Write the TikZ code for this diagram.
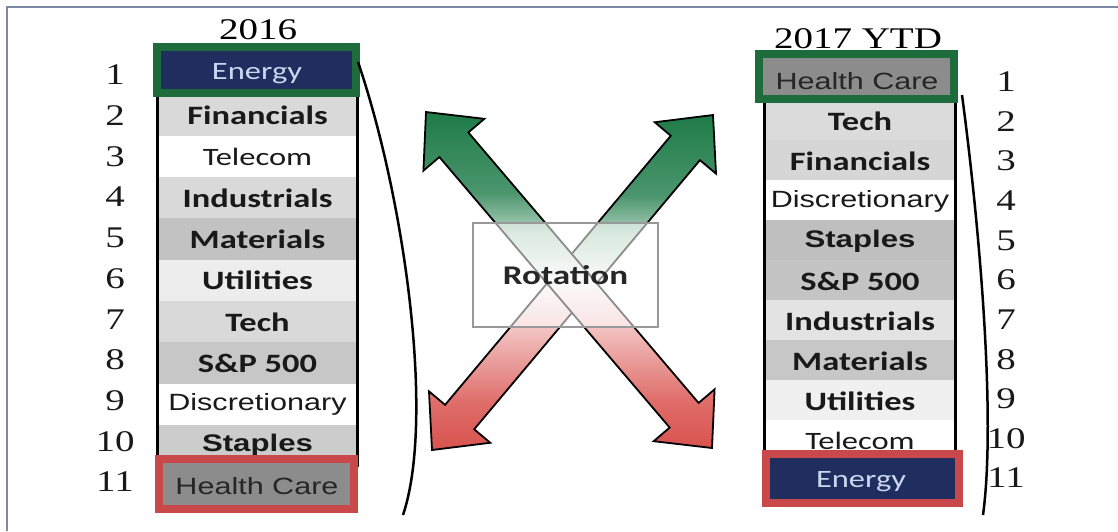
\documentclass[tikz,border=0pt]{standalone}
\usepackage{fontspec}
\usepackage{graphicx}
\usetikzlibrary{calc}
\setmainfont{Liberation Serif}
\newfontfamily\calfont{Carlito}
\newfontfamily\arialfont{Liberation Sans}
% labels are set wide, as in the original chart
\newcommand{\wide}[1]{\scalebox{1.3}[1]{#1}}
\newcommand{\fbold}{\calfont\bfseries\fontsize{26.5}{28}\selectfont}
\newcommand{\freg}{\calfont\fontsize{25}{27}\selectfont}
\newcommand{\farial}{\arialfont\fontsize{23.5}{26}\selectfont}
\newcommand{\farialb}{\arialfont\bfseries\fontsize{24}{26}\selectfont}
\newcommand{\fnum}{\fontsize{30}{32}\selectfont}
\definecolor{navy}{HTML}{1F2D5F}
\definecolor{boxgreen}{HTML}{1E6B3C}
\definecolor{boxred}{HTML}{C9494B}
\definecolor{arrgreen}{HTML}{1E7B48}
\definecolor{arrred}{HTML}{D9534F}
\definecolor{hcgrey}{HTML}{8C8C8C}
\definecolor{energytxt}{HTML}{C9D6F0}
\definecolor{frameblue}{HTML}{8088A8}
% verlauf der pfeile: unten rot, mitte hell, oben gruen
\pgfdeclareverticalshading{arrshade}{100bp}{color(0bp)=(arrred); color(25bp)=(arrred); color(32bp)=(arrred!85!white);
	color(43bp)=(arrred!35!white); color(50bp)=(black!4); color(57bp)=(arrgreen!35!white);
	color(63bp)=(arrgreen!80!white); color(75bp)=(arrgreen); color(100bp)=(arrgreen)}

\begin{document}
\begin{tikzpicture}[x=1pt,y=-1pt,
	cell/.style={rectangle, inner sep=0pt, minimum height=41.6pt, text=black!90},
	topbox/.style={rectangle, draw=boxgreen, line width=8pt, inner sep=0pt},
	botbox/.style={rectangle, draw=boxred, line width=8pt, inner sep=0pt},
	num/.style={font=\fnum, text=black!90},
	colline/.style={line width=3pt},
	bracket/.style={line width=2.5pt},
	dblarrow/.style={draw=black, line width=1.8pt, line join=miter, shading=arrshade}]
	\useasboundingbox (0,0) rectangle (1118,531);
	\draw[frameblue, line width=1.5pt] (7,531) -- (7,7) -- (1118,7);
	
	% --- cột 2016 ---
	\foreach \lab/\col/\fnt [count=\i from 2] in {Financials/black!15/\fbold, Telecom/white/\freg,
		Industrials/black!15/\fbold, Materials/black!24/\fbold, Utilities/black!7/\fbold,
		Tech/black!15/\fbold, S\&P 500/black!22/\fbold, Discretionary/white/\farial, Staples/black!20/\farialb} {
		\node[cell, fill=\col, font=\fnt, minimum width=200pt] (L\i) at (257.5,{74+41.3*(\i-1)}) {\wide{\lab}};
	}
	\draw[colline] (L2.north west) -- (L10.south west);
	\draw[colline] (L2.north east) -- (L10.south east);
	\node[font=\fnum] (y16) at (258,30) {\wide{2016}};
	\node[topbox, fill=navy, minimum width=199pt, minimum height=46pt] (L1) at (256.5,70) {};
	\node[text=energytxt, font=\freg] (L1t) at (257,74) {\wide{Energy}};
	\node[botbox, fill=hcgrey, minimum width=195pt, minimum height=50pt] (L11) at (256.5,484) {};
	\node[text=black!85, font=\farial] (L11t) at (257,486) {\wide{Health Care}};
	\foreach \n in {1,...,11} {
		\node[num] (Ln\n) at (115,{75+40.7*(\n-1)}) {\wide{\n}};
	}
	\draw[bracket] (358,62) .. controls (405,200) and (435,420) .. (403,515);
	
	% --- cột 2017 YTD ---
	\foreach \lab/\col/\fnt [count=\i from 2] in {Tech/black!14/\fbold, Financials/black!16/\fbold,
		Discretionary/white/\farial, Staples/black!25/\farialb, S\&P 500/black!23/\fbold,
		Industrials/black!11/\fbold, Materials/black!22/\fbold, Utilities/black!6/\fbold, Telecom/white/\freg} {
		\node[cell, fill=\col, font=\fnt, minimum width=190pt] (R\i) at (860,{81+40*(\i-1)}) {\wide{\lab}};
	}
	\draw[colline] (R2.north west) -- (R10.south west);
	\draw[colline] (R2.north east) -- (R10.south east);
	\node[font=\fnum] (y17) at (858,39) {\wide{2017 YTD}};
	\node[topbox, fill=hcgrey, minimum width=195pt, minimum height=45pt] (R1) at (856.5,76.5) {};
	\node[text=black!85, font=\farial] (R1t) at (857,81) {\wide{Health Care}};
	\node[botbox, fill=navy, minimum width=193pt, minimum height=49pt] (R11) at (862.5,478.5) {};
	\node[text=energytxt, font=\freg] (R11t) at (861,482) {\wide{Energy}};
	\foreach \n in {1,...,11} {
		\node[num] (Rn\n) at (1006,{82+39.6*(\n-1)}) {\wide{\n}};
	}
	\draw[bracket] (962,95) .. controls (980,230) and (996,420) .. (983,515);
	
	% --- mũi tên chéo ---
	\coordinate (tl) at (426,112);
	\coordinate (br) at (712,448);
	\coordinate (tr) at (713,115);
	\coordinate (bl) at (432,450);
	\foreach \a/\b in {tr/bl, tl/br} {
		\path[dblarrow] (\a)
		-- ($(\a)!43pt!(\b)!40pt!90:(\b)$) -- ($(\a)!43pt!(\b)!19pt!90:(\b)$)
		-- ($(\b)!43pt!(\a)!19pt!-90:(\a)$) -- ($(\b)!43pt!(\a)!40pt!-90:(\a)$)
		-- (\b)
		-- ($(\b)!43pt!(\a)!40pt!90:(\a)$) -- ($(\b)!43pt!(\a)!19pt!90:(\a)$)
		-- ($(\a)!43pt!(\b)!19pt!-90:(\b)$) -- ($(\a)!43pt!(\b)!40pt!-90:(\b)$)
		-- cycle;
	}
	\node[draw=black!40, line width=1.5pt, fill=white, fill opacity=0.55, text opacity=1,
		minimum width=185pt, minimum height=104pt, font=\calfont\bfseries\fontsize{27}{28}\selectfont, text=black!85] (rot) at (565.5,275) {\wide{Rotation}};
\end{tikzpicture}
\end{document}
